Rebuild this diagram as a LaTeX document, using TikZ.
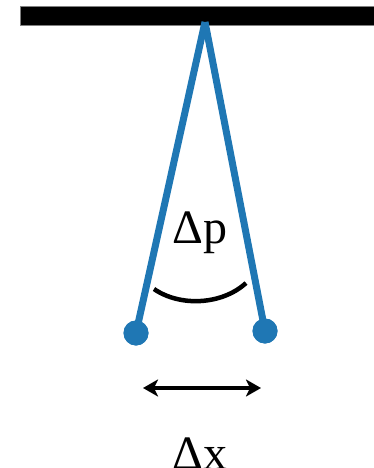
\documentclass[tikz,border=0pt]{standalone}
\usepackage{fontspec}
\setmainfont{Liberation Serif}
\usetikzlibrary{arrows.meta}
\definecolor{tabblue}{HTML}{1F77B4}
\tikzset{
  rod/.style={draw=tabblue, line width=7pt},
  bob/.style={circle, fill=tabblue, inner sep=0pt, minimum size=25pt},
  lbl/.style={font=\fontsize{48}{52}\selectfont, inner sep=0pt, anchor=base},
  dimarrow/.style={line width=3.5pt, >={Stealth[length=15pt,width=17pt,inset=4pt]}, <->},
}
\begin{document}
\begin{tikzpicture}[x=1pt,y=-1pt]
\useasboundingbox (0,0) rectangle (374,468);
\draw[fill=black, draw=gray, line width=0.6pt] (20,6) rectangle (374,25);
\coordinate (pivot) at (205,22);
\node[bob] (b1) at (136,333) {};
\node[bob] (b2) at (265,331) {};
\draw[rod] (pivot) -- (b1.center);
\draw[rod] (pivot) -- (b2.center);
\node[bob] at (b1.center) {};
\node[bob] at (b2.center) {};
\coordinate (a1) at (154,289);
\coordinate (a2) at (246,283);
\draw[line width=4.5pt] (a1) .. controls (180,307) and (222,305) .. (a2);
\node[lbl] (dp) at (200,243) {Δp};
\coordinate (l) at (143,388);
\coordinate (r) at (261,388);
\draw[dimarrow] (l) -- (r);
\node[lbl] (dx) at (200,469) {Δx};
\end{tikzpicture}
\end{document}
